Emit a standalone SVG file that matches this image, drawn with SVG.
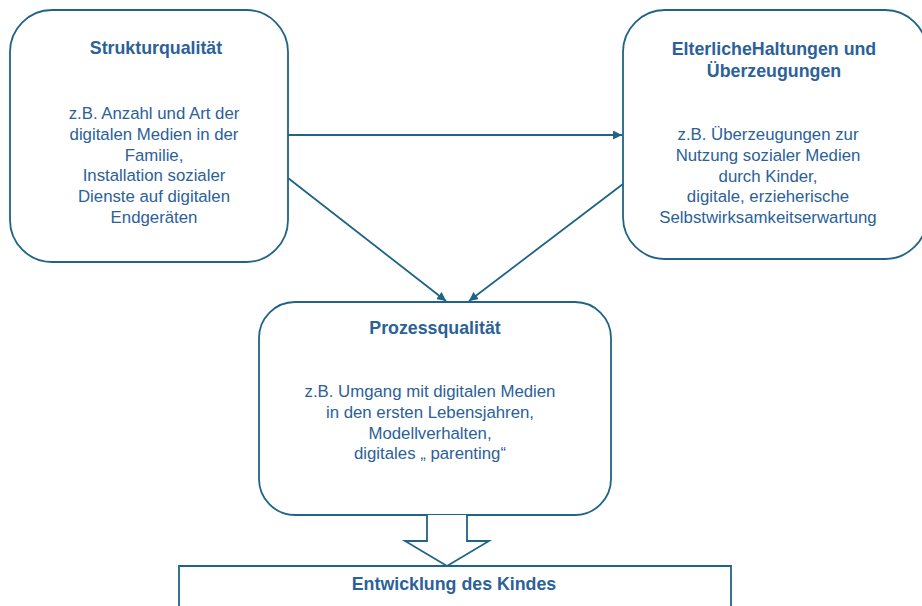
<svg xmlns="http://www.w3.org/2000/svg" width="922" height="606" viewBox="0 0 922 606">
<defs>
<style>
.box{fill:#fff;stroke:#1f6387;stroke-width:1.8}
.ln{fill:none;stroke:#1f6387;stroke-width:1.8}
.t{font-family:"Liberation Sans",Arial,sans-serif;fill:#2b6198;text-anchor:middle}
.h{font-size:17.8px;font-weight:bold}
.b{font-size:16.8px}
</style>
<marker id="ah" viewBox="0 0 10 10" refX="10" refY="5" markerWidth="5" markerHeight="5" markerUnits="strokeWidth" orient="auto">
<path d="M0,0 L10,5 L0,10 z" fill="#1f6387"/>
</marker>
</defs>
<rect width="922" height="606" fill="#fff"/>
<g id="struktur">
<rect class="box" x="10" y="10" width="278" height="252" rx="42" ry="42"/>
<text class="t h" x="156" y="54">Strukturqualität</text>
<text class="t b"><tspan x="154" y="119">z.B. Anzahl und Art der</tspan><tspan x="154" y="140">digitalen Medien in der</tspan><tspan x="154" y="161">Familie,</tspan><tspan x="154" y="181">Installation sozialer</tspan><tspan x="154" y="202">Dienste auf digitalen</tspan><tspan x="154" y="223">Endgeräten</tspan></text>
</g>
<g id="haltungen">
<rect class="box" x="623" y="10" width="304" height="249" rx="42" ry="42"/>
<text class="t h"><tspan x="774" y="55">ElterlicheHaltungen und</tspan><tspan x="774" y="77">Überzeugungen</tspan></text>
<text class="t b"><tspan x="768" y="140">z.B. Überzeugungen zur</tspan><tspan x="768" y="161">Nutzung sozialer Medien</tspan><tspan x="768" y="182">durch Kinder,</tspan><tspan x="768" y="202">digitale, erzieherische</tspan><tspan x="768" y="223">Selbstwirksamkeitserwartung</tspan></text>
</g>
<g id="prozess">
<rect class="box" x="259" y="302" width="352" height="213" rx="36" ry="36"/>
<text class="t h" x="435" y="334">Prozessqualität</text>
<text class="t b"><tspan x="430" y="397">z.B. Umgang mit digitalen Medien</tspan><tspan x="430" y="418">in den ersten Lebensjahren,</tspan><tspan x="430" y="439">Modellverhalten,</tspan><tspan x="430" y="459">digitales „ parenting“</tspan></text>
</g>
<g id="entwicklung">
<path class="box" d="M179,610 L179,566 L731,566 L731,610"/>
<text class="t h" x="454" y="590">Entwicklung des Kindes</text>
</g>
<g id="connectors">
<line class="ln" x1="288" y1="135" x2="622" y2="135" marker-end="url(#ah)"/>
<line class="ln" x1="288" y1="178" x2="446" y2="301" marker-end="url(#ah)"/>
<line class="ln" x1="623" y1="184" x2="469" y2="301" marker-end="url(#ah)"/>
<path class="box" d="M427,515 L427,541 L405,541 L447,566 L489,541 L467,541 L467,515"/>
</g>
</svg>
